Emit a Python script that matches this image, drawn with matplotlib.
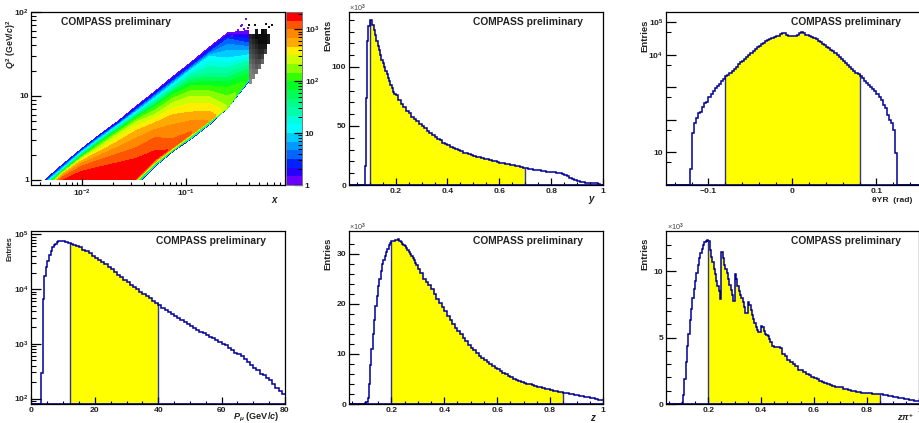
import numpy as np
import matplotlib
matplotlib.use('Agg')
import matplotlib.pyplot as plt
from matplotlib.patches import Rectangle
from matplotlib.ticker import FixedLocator, NullFormatter

W, H = 920, 423
plt.rcParams['font.family'] = ['Liberation Sans', 'DejaVu Sans']
plt.rcParams['font.weight'] = 'bold'
plt.rcParams['mathtext.fontset'] = 'custom'
plt.rcParams['mathtext.bf'] = 'Liberation Sans:bold'
plt.rcParams['mathtext.it'] = 'Liberation Sans:bold:italic'
plt.rcParams['mathtext.rm'] = 'Liberation Sans:bold'

LINE = '#000099'
TXT = '#222222'

# --- y
y_events = [0, 16, 74, 122, 135, 140, 140, 136, 131, 127, 122, 118, 114, 110, 106, 103, 100, 97, 94, 91, 88, 85, 82, 79, 77,
            76, 72, 69, 66, 63, 61, 58, 56, 54, 52,
            50, 48, 46, 44, 42, 41, 39, 38, 36, 35,
            33.5, 32.5, 31.5, 30.5, 29.5, 28.5, 27.5, 26.8, 26, 25.3,
            24.6, 24, 23.4, 22.9, 22.3, 21.7, 21.1, 20.5, 20, 19.5,
            19, 18.5, 18, 17.6, 17.2, 16.8, 16.3, 15.8, 15.3, 14.8,
            14.3, 13.9, 13.5, 13.1, 12.7, 12.3, 12, 11.7, 11.4, 11.2,
            11, 10.7, 10.3, 9.8, 9.2, 8.3, 7.3, 6.2, 5.1, 4.2,
            3.4, 2.8, 2.3, 1.9, 1.6, 1.4, 1.3, 1.3, 0.8, 0.2]
y_edges = np.r_[0.02, np.arange(0.08, 0.1999, 0.005), np.arange(0.2, 1.0001, 0.01)]

# --- theta YR, log10 of the entries
theta_log = [0, 0,
             0.0, 0.48, 1.60, 1.90, 2.05, 2.22, 2.25, 2.40, 2.52, 2.56,
             2.70, 2.80, 2.90, 2.98, 3.05, 3.12, 3.19, 3.26, 3.34, 3.39,
             3.45, 3.51, 3.58, 3.64, 3.71, 3.77, 3.83, 3.89, 3.95, 4.01,
             4.07, 4.13, 4.19, 4.24, 4.29, 4.33, 4.38, 4.42, 4.46, 4.50,
             4.53, 4.56, 4.59, 4.58, 4.66, 4.69, 4.68, 4.63, 4.59, 4.57,
             4.57, 4.59, 4.63, 4.68, 4.70, 4.67, 4.62, 4.60, 4.58, 4.56,
             4.52, 4.48, 4.44, 4.40, 4.35, 4.31, 4.26, 4.21, 4.16, 4.11,
             4.05, 3.99, 3.93, 3.87, 3.82, 3.76, 3.70, 3.64, 3.58, 3.52,
             3.46, 3.40, 3.34, 3.28, 3.21, 3.15, 3.08, 3.01, 2.95, 2.88,
             2.79, 2.72, 2.60, 2.46, 2.38, 2.16, 2.00, 1.90, 1.68, 0.97,
             0, 0]
theta_edges = np.r_[-0.1505, -0.13, np.arange(-0.125, 0.1251, 0.0025), 0.13, 0.153]

# --- P mu, log10 of the entries
pmu_log = [1.9, 1.9, 2.46, 3.82, 4.24, 4.40, 4.52, 4.62, 4.70, 4.76, 4.80, 4.83, 4.855, 4.87, 4.875, 4.875, 4.87, 4.865,
           4.855, 4.845, 4.835, 4.825, 4.81, 4.80,
           4.79, 4.76, 4.72, 4.69, 4.65, 4.61, 4.57, 4.53, 4.49, 4.45, 4.40, 4.36, 4.31, 4.26, 4.22, 4.17,
           4.12, 4.08, 4.04, 4.00, 3.95, 3.91, 3.87, 3.83, 3.78, 3.74, 3.70, 3.66, 3.62, 3.58, 3.55, 3.51,
           3.47, 3.43, 3.40, 3.36, 3.32, 3.29, 3.26, 3.22, 3.19, 3.16, 3.13, 3.10, 3.07, 3.04, 3.00, 2.97,
           2.93, 2.89, 2.84, 2.82, 2.78, 2.72, 2.67, 2.62, 2.56, 2.52, 2.45, 2.43, 2.37, 2.33, 2.27, 2.20,
           2.13, 2.08]
pmu_edges = np.r_[0, np.arange(2.5, 13.99, 0.5), np.arange(14, 80.01, 1.0)]

# --- z
z_entries = [0, 0, 0.1, 0.3, 1.2, 4, 7.8, 11, 14, 16.7, 19.5, 21.5, 23.5, 25, 26.5, 28, 28.8, 29.6, 30.3, 31, 31.7, 32.2,
             32.5, 32.6, 32.6, 32.7, 32.8, 32.9, 32.5, 32.3, 32, 31.7, 31.5, 31.1, 30.8, 30.4, 30, 29.6, 29.2, 28.7, 28.2, 27.7,
             27.0, 26.2, 25, 24.3, 23.7, 23, 22, 21, 20.2, 19.3,
             18.5, 17.5, 16.7, 15.9, 15.2, 14.5, 13.9, 13.2, 12.5, 11.7,
             11.2, 10.7, 10.1, 9.6, 9.2, 8.8, 8.3, 7.9, 7.5, 7.2,
             6.9, 6.5, 6.2, 5.9, 5.6, 5.3, 5.0, 4.8, 4.6, 4.4,
             4.2, 4.05, 3.9, 3.7, 3.55, 3.4, 3.3, 3.1, 3.0, 2.9,
             2.8, 2.65, 2.55, 2.45, 2.35, 2.25, 2.15, 2.05, 1.95, 1.85,
             1.75, 1.65, 1.55, 1.45, 1.35, 1.25, 1.15, 1.0, 0.85, 0.7]
z_edges = np.r_[0.04, 0.095, np.arange(0.1, 0.2999, 0.005), np.arange(0.3, 1.0001, 0.01)]

# --- z pi+
zpi_entries = [0, 0, 0.1, 0.7, 1.9, 3.2, 4.4, 5.3, 6.3, 7.2, 8.0, 8.7, 9.3, 9.9, 10.5, 11, 11.4, 11.7, 12, 12.2, 12.3, 12.4,
               12.3, 11.6, 11.1, 10.7, 10.2, 9.8, 9.3, 8.9, 8.5, 7.9,
               11.5, 11.0, 10.5, 10.2, 9.9, 9.4, 9.0, 8.6, 8.2, 7.8,
               9.8, 9.4, 8.9, 8.5, 8.2, 8.0, 7.7, 7.3, 6.9, 6.9,
               7.7, 7.5, 7.1, 6.7, 6.4, 6.1, 5.8, 5.6, 5.4, 5.4,
               5.9, 5.8, 5.5, 5.3, 5.2, 5.1, 4.9, 4.7, 4.4, 4.35,
               4.3, 4.3, 4.2, 3.8, 3.6, 3.3, 3.15, 3.0, 2.85, 2.6,
               2.55, 2.4, 2.3, 2.15, 2.05, 1.95, 1.85, 1.75, 1.65, 1.55,
               1.5, 1.45, 1.35, 1.3, 1.25, 1.25, 1.15, 1.1, 1.05, 1.0,
               0.95, 0.92, 0.88, 0.85, 0.82, 0.82, 0.8, 0.78, 0.77, 0.76,
               0.75, 0.7, 0.66, 0.62, 0.58, 0.54, 0.5, 0.46, 0.42, 0.38,
               0.35, 0.31, 0.28, 0.24, 0.2]
zpi_edges = np.r_[0.04, 0.095, np.arange(0.1, 0.4499, 0.005), np.arange(0.45, 1.0001, 0.01)]

# --- Q2 vs x: log10 Q2 where the log10 count reaches each level, per log10 x column
map_logx = [-2.35, -2.175, -2.0, -1.825, -1.65, -1.475, -1.30, -1.125, -0.95, -0.775, -0.60, -0.40]
map_peak = [3.3, 3.3, 3.3, 3.3, 3.3, 3.3, 3.3, 3.1, 3.0, 2.8, 2.3, 1.9]
map_levels = [0, .5, 1, 1.5, 2, 2.33, 2.66, 3.0, 3.17, 3.3, 3.17, 3.0, 2.66, 2.33, 2, 1.5, 1, .5, 0]
map_logq = [
    [0.00, 0.19, 0.37, 0.54, 0.70, 0.88, 1.05, 1.23, 1.40, 1.58, 1.75, 1.78],
    [-0.02, 0.17, 0.35, 0.52, 0.67, 0.84, 1.01, 1.18, 1.35, 1.52, 1.68, 1.63],
    [-0.04, 0.14, 0.33, 0.49, 0.65, 0.81, 0.97, 1.14, 1.31, 1.47, 1.45, 1.49],
    [-0.07, 0.12, 0.30, 0.47, 0.62, 0.77, 0.92, 1.08, 1.23, 1.27, 1.27, 1.37],
    [-0.09, 0.11, 0.28, 0.44, 0.59, 0.74, 0.87, 1.02, 1.12, 1.12, 1.10, 1.24],
    [-0.12, 0.09, 0.26, 0.40, 0.55, 0.69, 0.78, 0.92, 1.00, 0.99, 0.89, 1.24],
    [-0.13, 0.08, 0.23, 0.34, 0.46, 0.59, 0.68, 0.78, 0.81, 0.82, 0.89, 1.23],
    [-0.15, 0.04, 0.16, 0.24, 0.31, 0.38, 0.50, 0.49, 0.57, 0.73, 0.88, 1.23],
    [-0.19, 0.00, 0.10, 0.15, 0.20, 0.25, 0.34, 0.40, 0.56, 0.72, 0.88, 1.23],
    [-0.63, -0.39, -0.23, -0.08, 0.04, 0.12, 0.25, 0.40, 0.56, 0.71, 0.87, 1.22],
    [-1.07, -0.85, -0.63, -0.41, -0.19, 0.02, 0.24, 0.39, 0.56, 0.71, 0.87, 1.22],
    [-1.08, -0.86, -0.64, -0.42, -0.21, 0.01, 0.23, 0.39, 0.55, 0.71, 0.87, 1.21],
    [-1.09, -0.87, -0.65, -0.44, -0.22, 0.00, 0.21, 0.38, 0.54, 0.70, 0.87, 1.21],
    [-1.10, -0.88, -0.67, -0.45, -0.23, -0.01, 0.20, 0.37, 0.53, 0.70, 0.86, 1.21],
    [-1.11, -0.90, -0.68, -0.46, -0.24, -0.02, 0.19, 0.36, 0.52, 0.69, 0.86, 1.20],
    [-1.13, -0.91, -0.69, -0.47, -0.25, -0.04, 0.18, 0.35, 0.51, 0.68, 0.86, 1.20],
    [-1.14, -0.92, -0.70, -0.48, -0.26, -0.04, 0.17, 0.35, 0.50, 0.67, 0.86, 1.19],
    [-1.14, -0.92, -0.71, -0.49, -0.27, -0.05, 0.17, 0.35, 0.50, 0.67, 0.86, 1.18],
    [-1.15, -0.93, -0.71, -0.49, -0.27, -0.06, 0.16, 0.34, 0.49, 0.66, 0.86, 1.17],
]
palette = ['#6a00ff', '#2800ff', '#0022ff', '#0066ff', '#0099ff', '#00ccff', '#00ffff', '#00ffdd', '#00ffaa', '#00ff88',
           '#00ff55', '#00ff22', '#33ff00', '#88ff00', '#ccff00', '#ffee00', '#ffaa00', '#ff8800', '#ff5500', '#ff0000']

# grey part above x = 0.4, grey level per cell, -1 is an empty cell
cut_logx = [-0.40, -0.37, -0.34, -0.31, -0.28, -0.25, -0.22, -0.19, -0.16]
cut_logq = [1.80, 1.74, 1.68, 1.62, 1.56, 1.50, 1.44, 1.38, 1.32, 1.26, 1.20, 1.14]
cut_grey = [
    [-1, -1, .10, -1, .05, .10, -1, -1],
    [.15, .10, .05, .05, .05, .05, .10, -1],
    [.20, .15, .10, .05, .05, .05, .10, -1],
    [.25, .20, .15, .10, .10, .10, -1, -1],
    [.30, .25, .20, .15, .15, .25, -1, -1],
    [.35, .30, .25, .20, .25, -1, -1, -1],
    [.40, .35, .30, .30, .40, -1, -1, -1],
    [.45, .40, .35, .40, -1, -1, -1, -1],
    [.50, .45, .45, -1, -1, -1, -1, -1],
    [.50, .50, -1, -1, -1, -1, -1, -1],
    [.55, -1, -1, -1, -1, -1, -1, -1],
]
purple_logx = [-0.42, -0.46, -0.50, -0.41, -0.47, -0.44, -0.52, -0.56]
purple_logq = [1.92, 1.85, 1.79, 1.81, 1.83, 1.80, 1.76, 1.72]
black_logx = [-0.40, -0.34, -0.23, -0.18, -0.20]
black_logq = [1.85, 1.84, 1.86, 1.85, 1.82]


def axes_px(left, top, right, bottom):
    return fig.add_axes([left / W, 1 - bottom / H, (right - left) / W, (bottom - top) / H])


def label(px, py, s, **kw):
    kw.setdefault('fontsize', 6.8)
    kw.setdefault('color', TXT)
    kw.setdefault('ha', 'center')
    kw.setdefault('va', 'center')
    fig.text(px / W, 1 - py / H, s, **kw)


def style(ax, xmajor, xminor, ymajor, yminor, xlabels=None, ylabels=None):
    ax.xaxis.set_major_locator(FixedLocator(xmajor))
    ax.xaxis.set_minor_locator(FixedLocator(xminor))
    ax.yaxis.set_major_locator(FixedLocator(ymajor))
    ax.yaxis.set_minor_locator(FixedLocator(yminor))
    ax.xaxis.set_minor_formatter(NullFormatter())
    ax.yaxis.set_minor_formatter(NullFormatter())
    if xlabels is not None:
        ax.set_xticklabels(xlabels)
    if ylabels is not None:
        ax.set_yticklabels(ylabels)
    ax.tick_params(axis='x', which='major', direction='in', length=5, width=0.9, pad=2, labelsize=6.1, labelcolor=TXT)
    ax.tick_params(axis='x', which='minor', direction='in', length=2.5, width=0.8)
    ax.tick_params(axis='y', which='major', direction='in', length=7, width=0.9, pad=2, labelsize=6.1, labelcolor=TXT)
    ax.tick_params(axis='y', which='minor', direction='in', length=3.5, width=0.8)
    for s in ax.spines.values():
        s.set_linewidth(0.9)


def hist(ax, edges, values, lo, hi, bottom):
    values = np.asarray(values, dtype=float)
    i0 = np.searchsorted(edges, lo - 1e-9)
    i1 = np.searchsorted(edges, hi - 1e-9)
    ax.stairs(values[i0:i1], edges[i0:i1 + 1], baseline=bottom, fill=True, color='#ffff00', lw=0)
    ax.vlines([edges[i0], edges[i1]], bottom, [values[i0], values[i1 - 1]], color=LINE, lw=1.0, alpha=0.8)
    ax.stairs(values, edges, baseline=None, color=LINE, lw=1.1)
    ax.axhline(bottom, color=LINE, lw=1.2)


def log_minor(first, last):
    return [m * 10.0 ** d for d in range(first, last + 1) for m in range(2, 10)]


fig = plt.figure(figsize=(W / 100, H / 100), dpi=100)

# Q2 vs x
ax = axes_px(31.5, 12, 285, 185)
ax.set_xscale('log')
ax.set_yscale('log')
band_edges = np.linspace(0, 3.33, len(palette) + 1)
band_edges[0] = -0.01
map_x = np.tile(10.0 ** np.array(map_logx), (len(map_levels), 1))
map_y = 10.0 ** np.array(map_logq)
# a column never goes above its own peak
map_z = np.minimum(np.array(map_levels)[:, None], np.array(map_peak)[None, :])
cs = ax.contourf(map_x, map_y, map_z, levels=band_edges, colors=palette)
cs.set_clip_path(Rectangle((0.003, 1.0), 1, 100, transform=ax.transData))
grey = np.ma.masked_less(np.array(cut_grey), 0)
ax.pcolormesh(10.0 ** np.array(cut_logx), 10.0 ** np.array(cut_logq), grey, cmap='gray', vmin=0, vmax=1)
ax.scatter(10.0 ** np.array(purple_logx), 10.0 ** np.array(purple_logq), s=3, marker='s', color='#6a10ee', lw=0)
ax.scatter(10.0 ** np.array(black_logx), 10.0 ** np.array(black_logq), s=3, marker='s', color='#111111', lw=0)
ax.set_xlim(0.0033, 0.89)
ax.set_ylim(0.87, 100)
style(ax, [0.01, 0.1], log_minor(-3, -1), [1, 10, 100], log_minor(0, 1),
      [r'10$^{-2}$', r'10$^{-1}$'], ['1', '10', r'10$^{2}$'])

# palette bar
cax = axes_px(286, 12, 302, 185)
cax.set_yscale('log')
cax.pcolormesh([0, 1], 10.0 ** np.linspace(0, 3.33, len(palette) + 1), np.arange(len(palette))[:, None],
               cmap=matplotlib.colors.ListedColormap(palette))
cax.set_xticks([])
cax.yaxis.tick_right()
cax.yaxis.set_major_locator(FixedLocator([1, 10, 100, 1000]))
cax.yaxis.set_minor_locator(FixedLocator(log_minor(0, 2) + [2000]))
cax.yaxis.set_minor_formatter(NullFormatter())
cax.set_yticklabels(['1', '10', r'10$^{2}$', r'10$^{3}$'])
cax.tick_params(axis='y', which='major', direction='in', length=6, width=0.9, pad=2, labelsize=6.1, labelcolor=TXT)
cax.tick_params(axis='y', which='minor', direction='in', length=3, width=0.7)
cax.set_ylim(1, 10 ** 3.33)
for s in cax.spines.values():
    s.set_linewidth(0.7)
    s.set_color('#777777')

# y
ax = axes_px(349, 12, 603, 185)
hist(ax, y_edges, y_events, 0.1, 0.7, 0)
ax.set_xlim(0.02, 1)
ax.set_ylim(0, 146.6)
style(ax, [0.2, 0.4, 0.6, 0.8, 1], np.arange(0.05, 1, 0.05), [0, 50, 100], np.arange(0, 146, 10),
      ['0.2', '0.4', '0.6', '0.8', '1'], ['0', '50', '100'])

# theta YR
ax = axes_px(666, 12, 921, 185)
ax.set_yscale('log')
hist(ax, theta_edges, 10.0 ** np.array(theta_log), -0.08, 0.08, 1)
ax.set_xlim(-0.1505, 0.153)
ax.set_ylim(1, 2.1e5)
style(ax, [-0.1, 0, 0.1], np.arange(-0.14, 0.15, 0.02), [10, 100, 1000, 1e4, 1e5], [5, 50, 500, 5000, 5e4],
      ['\u22120.1', '0', '0.1'], ['10', '', '', r'10$^{4}$', r'10$^{5}$'])

# P mu
ax = axes_px(31.5, 231, 285, 404)
ax.set_yscale('log')
hist(ax, pmu_edges, 10.0 ** np.array(pmu_log), 12, 40, 10 ** 1.9)
ax.set_xlim(0, 80)
ax.set_ylim(10 ** 1.9, 10 ** 5.06)
style(ax, [0, 20, 40, 60, 80], np.arange(0, 80, 5), [100, 1000, 1e4, 1e5], log_minor(1, 4),
      ['0', '20', '40', '60', '80'], [r'10$^{2}$', r'10$^{3}$', r'10$^{4}$', r'10$^{5}$'])

# z
ax = axes_px(349, 231, 603, 404)
hist(ax, z_edges, z_entries, 0.2, 0.85, 0)
ax.set_xlim(0.04, 1)
ax.set_ylim(0, 34.5)
style(ax, [0.2, 0.4, 0.6, 0.8, 1], np.arange(0.05, 1, 0.05), [0, 10, 20, 30], np.arange(0, 34, 2),
      ['0.2', '0.4', '0.6', '0.8', '1'], ['0', '10', '20', '30'])

# z pi+
ax = axes_px(666, 231, 919.5, 404)
hist(ax, zpi_edges, zpi_entries, 0.2, 0.85, 0)
ax.set_xlim(0.04, 1)
ax.set_ylim(0, 13.05)
style(ax, [0.2, 0.4, 0.6, 0.8, 1], np.arange(0.05, 1, 0.05), [0, 5, 10], np.arange(0, 13, 1),
      ['0.2', '0.4', '0.6', '0.8', '1'], ['0', '5', '10'])

# texts
for px, py in [(116, 22), (528.5, 22), (846, 22), (211, 241), (528.5, 241), (846, 241)]:
    label(px, py, 'COMPASS preliminary', fontsize=7.4)

label(11, 20, r'$\mathit{Q}^{2}$ (GeV/$\mathit{c}$)$^{2}$', rotation=90, va='top', fontsize=6.3)
label(328, 20, 'Events', rotation=90, va='top')
label(645, 20, 'Entries', rotation=90, va='top')
label(10, 236, 'Entries', rotation=90, va='top', fontsize=5.2)
label(328, 238, 'Entries', rotation=90, va='top')
label(645, 238, 'Entries', rotation=90, va='top')

label(275, 200, r'$\mathit{x}$', fontsize=7)
label(592, 200, r'$\mathit{y}$', fontsize=7)
label(892, 200, '\u03b8YR  (rad)', fontsize=6.1)
label(256, 417, r'$\mathit{P}_{\mu}$ (GeV/$\mathit{c}$)', fontsize=6.6)
label(593, 418, r'$\mathit{z}$', fontsize=7)
label(906, 417, r'$\mathit{z}\pi^{+}$', fontsize=6.6)

for px, py in [(357, 8), (357, 227), (675, 227)]:
    label(px, py, '\u00d710$^{3}$', fontsize=5.2, fontweight='normal', color='#444444')

fig.savefig('out.png', dpi=100)
